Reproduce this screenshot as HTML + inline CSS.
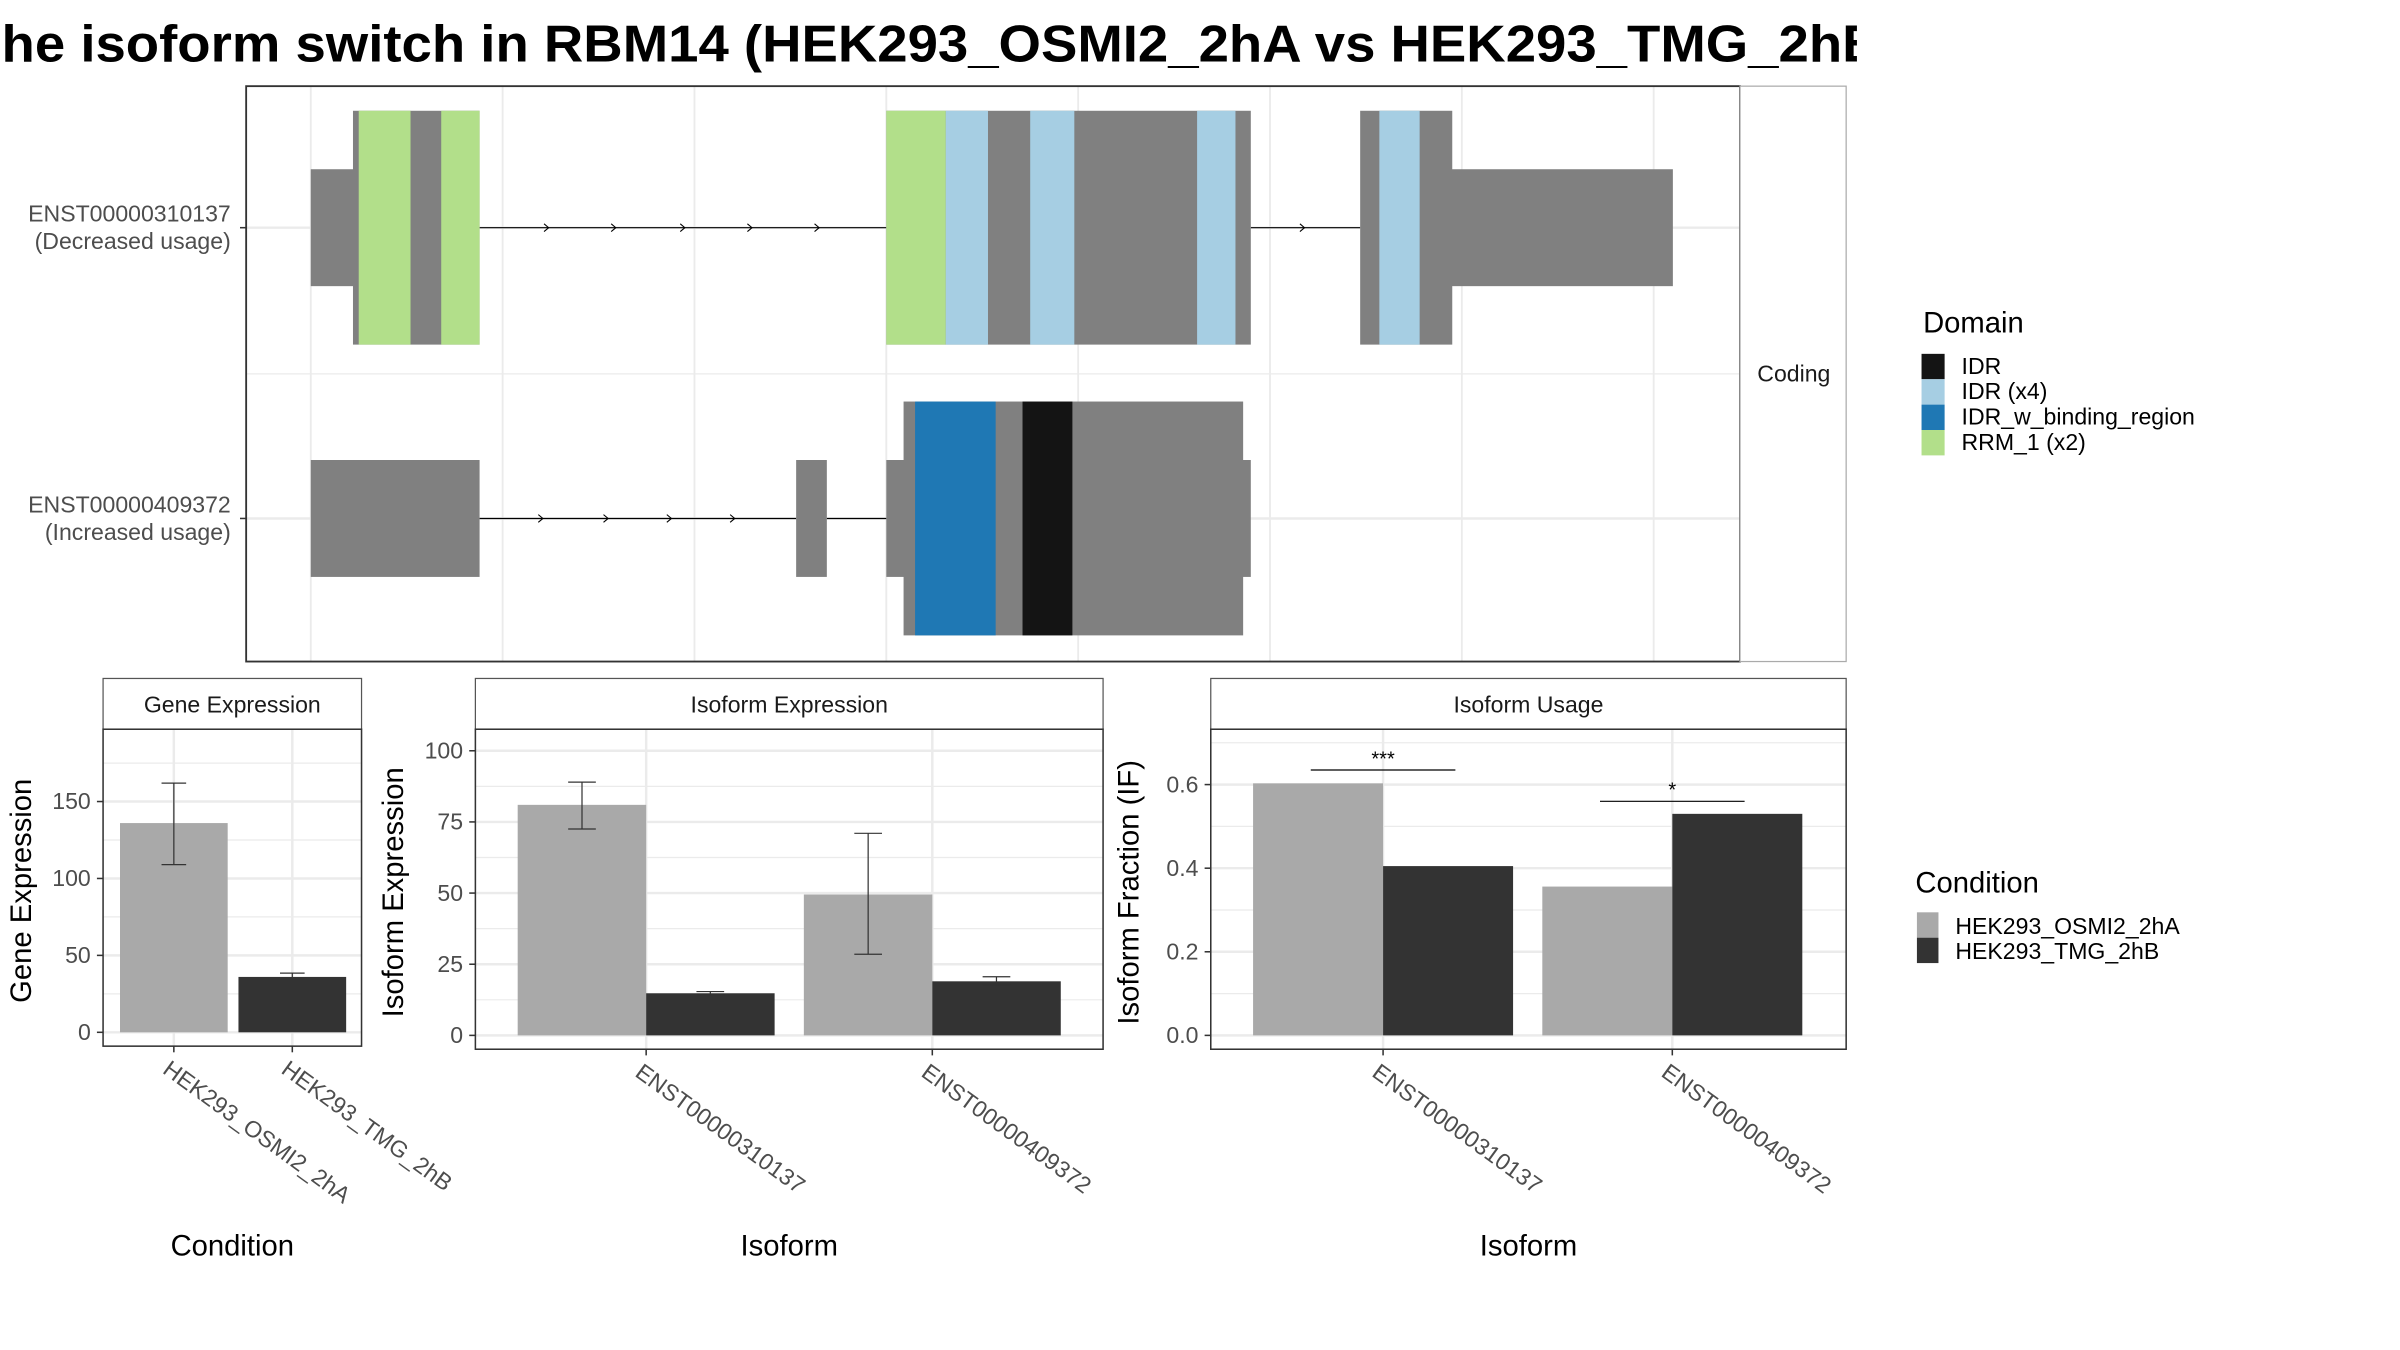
<!DOCTYPE html>
<html><head><meta charset="utf-8"><style>
html,body{margin:0;padding:0;background:#fff;width:2400px;height:1350px;overflow:hidden}
svg{display:block;font-family:"Liberation Sans",sans-serif}
</style></head><body>
<svg id="c" width="2400" height="1350" viewBox="0 0 1560 877.5" xmlns="http://www.w3.org/2000/svg">
<defs><clipPath id="tclip"><rect x="0" y="0" width="1207" height="60"/></clipPath></defs>
<rect width="1560" height="877.5" fill="#fff"/>
<text clip-path="url(#tclip)" x="1" y="40" font-size="34" font-weight="bold" textLength="1222" lengthAdjust="spacingAndGlyphs">he isoform switch in RBM14 (HEK293_OSMI2_2hA vs HEK293_TMG_2hB</text>
<g id="topG"></g><g id="bottomG"></g>
</svg>
<script>
// ---- gene structure data (genomic coordinate units, drawn through axis function) ----
const gxVals = [0,1,2,3,4,5,6,7];
const tx1Thin = [[0,0.23],[5.9,7.1]];
const tx1Thick = [[0.22,0.88],[3.0,4.9],[5.47,5.95]];
const tx1Domains = [[0.25,0.52,'RRM'],[0.68,0.88,'RRM'],[3.0,3.31,'RRM'],[3.31,3.53,'IDR4'],[3.75,3.98,'IDR4'],[4.62,4.82,'IDR4'],[5.57,5.78,'IDR4']];
const tx1Introns = [[0.88,3.0],[4.9,5.47]];
const tx1Arrows = [1.24,1.59,1.95,2.30,2.65,5.18];
const tx2Thin = [[0,0.88],[2.53,2.69],[3.0,3.1],[4.85,4.9]];
const tx2Thick = [[3.09,4.86]];
const tx2Domains = [[3.15,3.57,'IDRB'],[3.71,3.97,'IDR']];
const tx2Introns = [[0.88,2.53],[2.69,3.0]];
const tx2Arrows = [1.21,1.55,1.88,2.21];
const domainColors = {IDR:'#141414',IDR4:'#a6cee3',IDRB:'#1f78b4',RRM:'#b2df8a'};
// ---- bar chart data ----
const conditions = ['HEK293_OSMI2_2hA','HEK293_TMG_2hB'];
const isoforms = ['ENST00000310137','ENST00000409372'];
const geneExpr = [136,36];
const geneErrLo = [109,34.5];
const geneErrHi = [162,38.5];
const geneTicks = [0,50,100,150];
const isoExprA = [81,49.5];
const isoExprB = [14.8,19];
const isoErrLoA = [72.5,28.5];
const isoErrHiA = [89,71];
const isoErrLoB = [14.2,17.8];
const isoErrHiB = [15.4,20.6];
const isoTicks = [0,25,50,75,100];
const ifA = [0.603,0.356];
const ifB = [0.405,0.530];
const ifTicks = ['0.0','0.2','0.4','0.6'];
const sigLabels = ['***','*'];
const sigY = [0.635,0.56];

const NS='http://www.w3.org/2000/svg';
function el(parent,tag,attrs,txt){const e=document.createElementNS(NS,tag);for(const k in attrs)e.setAttribute(k,attrs[k]);if(txt!==undefined)e.textContent=txt;parent.appendChild(e);return e;}
const topG=document.getElementById('topG'), botG=document.getElementById('bottomG');
const GRAY='#808080', GRID='#ebebeb';
const gx = v => 202 + v*124.7;

// top panel
let r=el(topG,'rect',{x:160,y:56,width:971,height:374,fill:'#fff',stroke:'none'});


[148,337].forEach(y=>el(topG,'line',{x1:160,x2:1131,y1:y,y2:y,stroke:GRID,'stroke-width':1.6}));
el(topG,'line',{x1:160,x2:1131,y1:243,y2:243,stroke:GRID,'stroke-width':0.8});
gxVals.forEach(v=>el(topG,'line',{x1:gx(v),x2:gx(v),y1:56,y2:430,stroke:GRID,'stroke-width':1.2}));
function drawTx(name,cy,thin,thick,doms,introns,arrows){
  const g=el(topG,'g',{});
  
  
  introns.forEach(([a,b])=>el(g,'line',{x1:gx(a),x2:gx(b),y1:cy,y2:cy,stroke:'#000','stroke-width':0.8}));
  arrows.forEach(a=>el(g,'path',{d:`M${gx(a)-3},${cy-2.5} L${gx(a)},${cy} L${gx(a)-3},${cy+2.5}`,fill:'none',stroke:'#000','stroke-width':0.7}));
  thin.forEach(([a,b])=>el(g,'rect',{x:gx(a),y:cy-38,width:gx(b)-gx(a),height:76,fill:GRAY}));
  thick.forEach(([a,b])=>el(g,'rect',{x:gx(a),y:cy-76,width:gx(b)-gx(a),height:152,fill:GRAY}));
  doms.forEach(([a,b,t])=>{const d=el(g,'rect',{x:gx(a),y:cy-76,width:gx(b)-gx(a),height:152,fill:domainColors[t]});
    
    });
}
drawTx('transcript-enst00000310137',148,tx1Thin,tx1Thick,tx1Domains,tx1Introns,tx1Arrows);
drawTx('transcript-enst00000409372',337,tx2Thin,tx2Thick,tx2Domains,tx2Introns,tx2Arrows);
el(topG,'rect',{x:160,y:56,width:971,height:374,fill:'none',stroke:'#333','stroke-width':1.2});
let s=el(topG,'rect',{x:1131,y:56,width:69,height:374,fill:'#fff',stroke:'#aaa','stroke-width':0.8});


el(topG,'text',{x:1166,y:248,'font-size':15,'text-anchor':'middle',fill:'#1a1a1a'},'Coding');
[[148,'ENST00000310137','(Decreased usage)'],[337,'ENST00000409372','(Increased usage)']].forEach(([y,a,b])=>{
  const t=el(topG,'text',{x:150,y:y-4,'font-size':15,'text-anchor':'end',fill:'#4d4d4d'},a);
  
  
  el(topG,'text',{x:150,y:y+14,'font-size':15,'text-anchor':'end',fill:'#4d4d4d'},b);
  el(topG,'line',{x1:156,x2:160,y1:y,y2:y,stroke:'#333'});
});
// domain legend
const lg=el(topG,'g',{});


el(lg,'text',{x:1250,y:216,'font-size':19,fill:'#000'},'Domain');
[['IDR','IDR'],['IDR4','IDR (x4)'],['IDRB','IDR_w_binding_region'],['RRM','RRM_1 (x2)']].forEach(([k,l],i)=>{
  el(lg,'rect',{x:1249,y:230+i*16.5,width:15,height:16.5,fill:domainColors[k]});
  el(lg,'text',{x:1275,y:243+i*16.5,'font-size':15,fill:'#000'},l);
});

// bar panels
const CA='#a9a9a9', CB='#333333';
function panel(name,x0,x1,y0,y1,stripTitle,yTicks,yfun,minorTicks,yTitle,xTitle,xcats,xcenters){
  const g=el(botG,'g',{});
  
  
  el(g,'rect',{x:x0,y:y0,width:x1-x0,height:y1-y0,fill:'#fff'});
  minorTicks.forEach(v=>el(g,'line',{x1:x0,x2:x1,y1:yfun(v),y2:yfun(v),stroke:GRID,'stroke-width':0.8}));
  yTicks.forEach(v=>el(g,'line',{x1:x0,x2:x1,y1:yfun(+v),y2:yfun(+v),stroke:GRID,'stroke-width':1.6}));
  xcenters.forEach(c=>el(g,'line',{x1:c,x2:c,y1:y0,y2:y1,stroke:GRID,'stroke-width':1.6}));
  const st=el(g,'rect',{x:x0,y:441,width:x1-x0,height:33,fill:'#fff',stroke:'#555','stroke-width':0.8});
  
  
  el(g,'text',{x:(x0+x1)/2,y:463,'font-size':15,'text-anchor':'middle',fill:'#1a1a1a'},stripTitle);
  yTicks.forEach(v=>{const y=yfun(+v);el(g,'line',{x1:x0-4,x2:x0,y1:y,y2:y,stroke:'#333'});
    const t=el(g,'text',{x:x0-8,y:y+5,'font-size':15,'text-anchor':'end',fill:'#4d4d4d'},v);
    
    });
  xcats.forEach((c,i)=>{const x=xcenters[i];el(g,'line',{x1:x,x2:x,y1:y1,y2:y1+4,stroke:'#333'});
    const t=el(g,'text',{x:x-8,y:y1+17,'font-size':15,fill:'#4d4d4d',transform:`rotate(36 ${x-8} ${y1+17})`},c);
    
    });
  const yt=el(g,'text',{x:0,y:0,'font-size':19,'text-anchor':'middle',fill:'#000',transform:`translate(${x0-47},${(y0+y1)/2+2}) rotate(-90)`},yTitle);
  
  
  const xt=el(g,'text',{x:(x0+x1)/2,y:816,'font-size':19,'text-anchor':'middle',fill:'#000'},xTitle);
  
  
  return g;
}
function bar(g,x,w,v,yfun,fill,name){const b=el(g,'rect',{x:x,y:yfun(v),width:w,height:yfun(0)-yfun(v),fill:fill});
  
  }
function err(g,cx,lo,hi,yfun,cap){el(g,'line',{x1:cx,x2:cx,y1:yfun(lo),y2:yfun(hi),stroke:'#333','stroke-width':0.8});
  [lo,hi].forEach(v=>el(g,'line',{x1:cx-cap,x2:cx+cap,y1:yfun(v),y2:yfun(v),stroke:'#333','stroke-width':0.8}));}

// Gene expression
const gy=v=>671-v*1.0;
const g1=panel('gene-expression-panel',67,235,474,680,'Gene Expression',geneTicks.map(String),gy,[25,75,125,175],'Gene Expression','Condition',conditions,[113,190]);
geneExpr.forEach((v,i)=>{const cx=[113,190][i];bar(g1,cx-35,70,v,gy,i?CB:CA,'bar-gene-'+conditions[i]);err(g1,cx,geneErrLo[i],geneErrHi[i],gy,8);});
el(g1,'rect',{x:67,y:474,width:168,height:206,fill:'none',stroke:'#333','stroke-width':1});

// Isoform expression
const iy=v=>673-v*1.85;
const g2=panel('isoform-expression-panel',309,717,474,682,'Isoform Expression',isoTicks.map(String),iy,[12.5,37.5,62.5,87.5],'Isoform Expression','Isoform',isoforms,[420,606]);
isoforms.forEach((n,i)=>{const c=[420,606][i];
  bar(g2,c-83.5,83.5,isoExprA[i],iy,CA,'bar-isoexpr-a-'+n);bar(g2,c,83.5,isoExprB[i],iy,CB,'bar-isoexpr-b-'+n);
  err(g2,c-41.7,isoErrLoA[i],isoErrHiA[i],iy,9);err(g2,c+41.7,isoErrLoB[i],isoErrHiB[i],iy,9);});
el(g2,'rect',{x:309,y:474,width:408,height:208,fill:'none',stroke:'#333','stroke-width':1});

// Isoform usage
const uy=v=>673-v*271.7;
const g3=panel('isoform-usage-panel',787,1200,474,682,'Isoform Usage',ifTicks,uy,[0.1,0.3,0.5,0.7],'Isoform Fraction (IF)','Isoform',isoforms,[899,1087]);
isoforms.forEach((n,i)=>{const c=[899,1087][i];
  bar(g3,c-84.5,84.5,ifA[i],uy,CA,'bar-if-a-'+n);bar(g3,c,84.5,ifB[i],uy,CB,'bar-if-b-'+n);
  el(g3,'line',{x1:c-47,x2:c+47,y1:uy(sigY[i]),y2:uy(sigY[i]),stroke:'#000','stroke-width':0.8});
  const t=el(g3,'text',{x:c,y:uy(sigY[i])-3,'font-size':13,'text-anchor':'middle',fill:'#000'},sigLabels[i]);
  
  });
el(g3,'rect',{x:787,y:474,width:413,height:208,fill:'none',stroke:'#333','stroke-width':1});

// condition legend
const cl=el(botG,'g',{});


el(cl,'text',{x:1245,y:580,'font-size':19,fill:'#000'},'Condition');
conditions.forEach((c,i)=>{el(cl,'rect',{x:1246,y:593+i*16.5,width:14,height:16.5,fill:i?CB:CA});
  el(cl,'text',{x:1271,y:607+i*16.5,'font-size':15,fill:'#000'},c);});
</script>
</body></html>
